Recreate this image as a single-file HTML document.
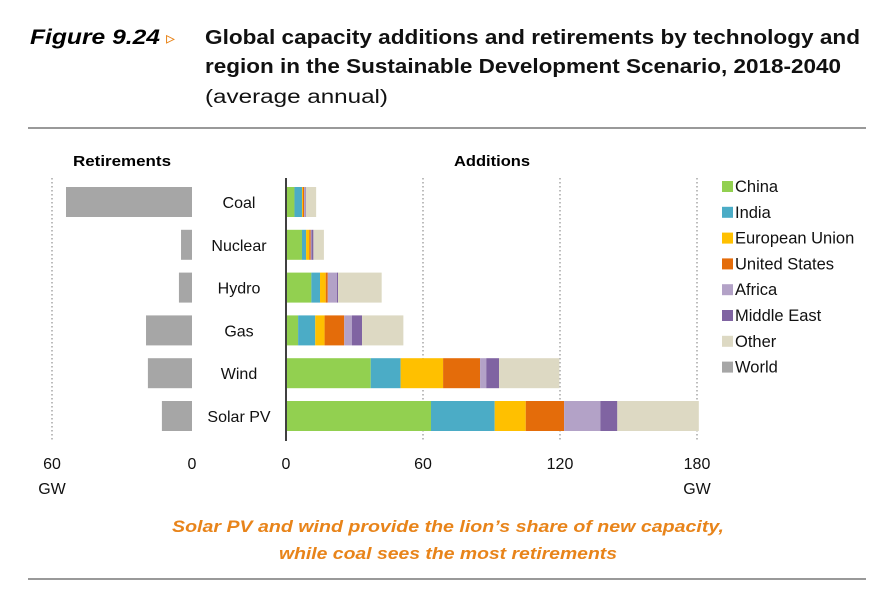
<!DOCTYPE html>
<html><head><meta charset="utf-8"><style>
body{margin:0;background:#fff;}
svg{display:block;font-family:"Liberation Sans",sans-serif;}
</style></head><body>
<svg id="chart" width="894" height="594" viewBox="0 0 894 594">
<text x="30" y="44" font-size="21" font-weight="bold" font-style="italic" fill="#000" textLength="130" lengthAdjust="spacingAndGlyphs">Figure 9.24</text>
<text x="166" y="44" font-size="18" fill="#e8841a">▹</text>
<text x="205" y="44" font-size="20" font-weight="bold" fill="#111" textLength="655" lengthAdjust="spacingAndGlyphs">Global capacity additions and retirements by technology and</text>
<text x="205" y="73" font-size="20" font-weight="bold" fill="#111" textLength="636" lengthAdjust="spacingAndGlyphs">region in the Sustainable Development Scenario, 2018-2040</text>
<text x="205" y="103" font-size="19" fill="#111" textLength="183" lengthAdjust="spacingAndGlyphs">(average annual)</text>
<line x1="28" y1="128" x2="866" y2="128" stroke="#999" stroke-width="2"/>
<line x1="28" y1="579" x2="866" y2="579" stroke="#999" stroke-width="2"/>
<text x="122" y="166" font-size="15" font-weight="bold" text-anchor="middle" textLength="98" lengthAdjust="spacingAndGlyphs">Retirements</text>
<text x="492" y="166" font-size="15" font-weight="bold" text-anchor="middle" textLength="76" lengthAdjust="spacingAndGlyphs">Additions</text>
<g id="plot"></g>
<text x="448" y="532" font-size="17" font-weight="bold" font-style="italic" fill="#e8841a" text-anchor="middle" textLength="552" lengthAdjust="spacingAndGlyphs">Solar PV and wind provide the lion’s share of new capacity,</text>
<text x="448" y="559" font-size="17" font-weight="bold" font-style="italic" fill="#e8841a" text-anchor="middle" textLength="338" lengthAdjust="spacingAndGlyphs">while coal sees the most retirements</text>
</svg>
<script>
const categories = ["Coal","Nuclear","Hydro","Gas","Wind","Solar PV"];
const regions = ["China","India","European Union","United States","Africa","Middle East","Other"];
const colors = ["#92d050","#4bacc6","#ffc000","#e46c0a","#b3a2c7","#8064a2","#ddd9c3"];
const china = [3.7,7.0,11.1,5.3,37.1,63.5];
const india = [3.3,1.8,3.8,7.5,13.1,27.9];
const eu = [0.4,1.4,2.5,4.1,18.6,13.6];
const us = [0.5,0.6,0.9,8.6,16.2,16.8];
const africa = [0.5,0.4,4.0,3.4,2.7,15.9];
const middleEast = [0.3,0.8,0.5,4.4,5.6,7.4];
const other = [4.5,4.6,19.1,18.1,26.4,35.7];
const retirements = [54,4.7,5.6,19.7,18.9,12.9];
const addTicks = [0,60,120,180];
const retTicks = [60,0];
const series = [china,india,eu,us,africa,middleEast,other];

const NS="http://www.w3.org/2000/svg";
const g=document.getElementById('plot');
function el(t,a,txt){const e=document.createElementNS(NS,t);for(const k in a)e.setAttribute(k,a[k]);if(txt!==undefined)e.textContent=txt;g.appendChild(e);return e;}
const xA=v=>286+v*(411/180);
const xR=v=>192-v*(140/60);
const yBand=i=>187+i*42.8;
const bh=30;
addTicks.slice(1).forEach(t=>{
  const l=el('line',{x1:xA(t),x2:xA(t),y1:178,y2:441,stroke:'#999','stroke-width':1.3,'stroke-dasharray':'1.5,2.5'});
  
  
});
{const l=el('line',{x1:xR(60),x2:xR(60),y1:178,y2:441,stroke:'#999','stroke-width':1.3,'stroke-dasharray':'1.5,2.5'});

}
categories.forEach((c,i)=>{
  const y=yBand(i);
  const r=el('rect',{x:xR(retirements[i]),y:y,width:xR(0)-xR(retirements[i]),height:bh,fill:'#a6a6a6'});
  
  
  const t=el('text',{x:239,y:y+21,'font-size':16,'text-anchor':'middle',fill:'#111'},c);
  
  
  let acc=0;
  series.forEach((s,j)=>{
    const b=el('rect',{x:xA(acc),y:y,width:xA(acc+s[i])-xA(acc),height:bh,fill:colors[j]});
    
    
    acc+=s[i];
  });
});
{const a=el('line',{x1:286,x2:286,y1:178,y2:441,stroke:'#404040','stroke-width':2});

}
addTicks.forEach(t=>{
  const e=el('text',{x:xA(t),y:469,'font-size':16,'text-anchor':'middle',fill:'#111'},String(t));
  
  
});
retTicks.forEach(t=>{
  const e=el('text',{x:xR(t),y:469,'font-size':16,'text-anchor':'middle',fill:'#111'},String(t));
  
  
});
{const e=el('text',{x:xR(60),y:494,'font-size':16,'text-anchor':'middle',fill:'#111'},'GW');


const f=el('text',{x:xA(180),y:494,'font-size':16,'text-anchor':'middle',fill:'#111'},'GW');

}
const legNames=regions.concat(["World"]);
const legColors=colors.concat(["#a6a6a6"]);
legNames.forEach((n,i)=>{
  const y=181+i*25.8;
  const r=el('rect',{x:722,y:y,width:11,height:11,fill:legColors[i]});
  
  
  const t=el('text',{x:735,y:y+11,'font-size':16.5,fill:'#111'},n);
  
  
});
</script>
</body></html>
